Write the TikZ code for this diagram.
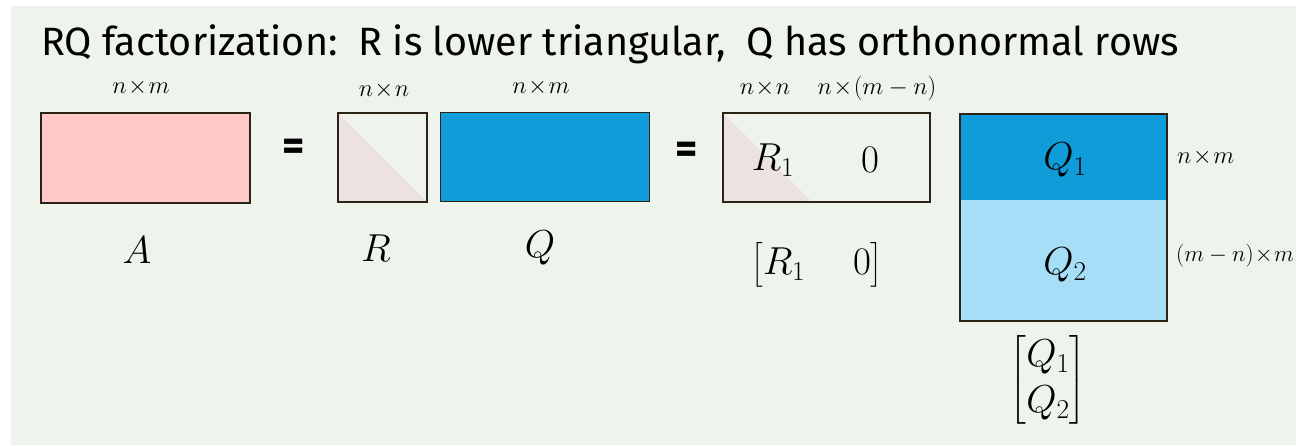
\RequirePackage{fix-cm}
\documentclass[tikz,border=0pt]{standalone}
\usepackage{fontspec}
\usepackage{amsmath}
\newfontfamily\titlefont{Fira Sans}
\definecolor{bgc}{HTML}{EEF3EC}
\definecolor{pinkA}{HTML}{FFC9C9}
\definecolor{triR}{HTML}{EDE2E2}
\definecolor{qblue}{HTML}{0F9CD8}
\definecolor{qlight}{HTML}{A6DEF8}
\definecolor{edgec}{HTML}{2B2416}
\newcommand{\tx}{\mkern1mu{\times}\mkern1mu}
\tikzset{
  mat/.style={draw=edgec, line width=1.6pt, inner sep=0pt, anchor=north west},
  dimlab/.style={inner sep=0pt, font=\fontsize{24.5}{30}\selectfont},
  biglab/.style={inner sep=0pt, font=\fontsize{39}{46}\selectfont},
  eqs/.style={inner sep=0pt, font=\titlefont\bfseries\fontsize{43}{48}\selectfont},
}
\begin{document}
\begin{tikzpicture}[x=1pt,y=-1pt]
\useasboundingbox (0,0) rectangle (1296,446);
\fill[bgc] (11,6) rectangle (1296,445);
\node[inner sep=0pt, anchor=west, font=\titlefont\fontsize{39.5}{46}\selectfont] (title) at (41,44) {RQ factorization:\ \ R is lower triangular,\ \ Q has orthonormal rows};
% A
\node[mat, fill=pinkA, minimum width=209pt, minimum height=90pt] (A) at (40,112) {};
\node[dimlab] (Adim) at (141,87) {$n\tx m$};
\node[biglab] (Alab) at (137,250) {$A$};
\node[eqs] (eq1) at (294,150) {=};
% R
\fill[triR] (337,112) -- (337,201) -- (426,201) -- cycle;
\node[mat, minimum width=89pt, minimum height=89pt] (R) at (337,112) {};
\node[dimlab] (Rdim) at (384,90) {$n\tx n$};
\node[biglab] (Rlab) at (376,248) {$R$};
% Q
\node[mat, fill=qblue, line width=1pt, minimum width=209pt, minimum height=89pt] (Q) at (440,112) {};
\node[dimlab] (Qdim) at (541,87) {$n\tx m$};
\node[biglab] (Qlab) at (540,248) {$Q$};
\node[eqs] (eq2) at (687,153) {=};
% R1 0
\fill[triR] (722,112) -- (722,201) -- (811,201) -- cycle;
\node[mat, minimum width=207pt, minimum height=89pt] (R10) at (722,112) {};
\node[biglab] (R1) at (773,160) {$R_1$};
\node[biglab] (zero) at (870,160) {$0$};
\node[dimlab] (R1dim) at (765,88) {$n\tx n$};
\node[dimlab] (zdim) at (877,88) {$n\tx(m-n)$};
\node[biglab] (R10lab) at (817,265) {$\arraycolsep=24pt\begin{bmatrix}R_1 & 0\end{bmatrix}$};
% Q stack
\fill[qblue] (959,113) rectangle (1166,200);
\fill[qlight] (959,200) rectangle (1166,320);
\node[mat, minimum width=207pt, minimum height=207pt] (Qs) at (959,113) {};
\node[biglab] (Q1) at (1065,160) {$Q_1$};
\node[biglab] (Q2) at (1065,265) {$Q_2$};
\node[dimlab, anchor=west] (Q1dim) at (1177,157) {$n\tx m$};
\node[dimlab, anchor=east, font=\fontsize{23}{28}\selectfont] (Q2dim) at (1294,256) {$(m-n)\tx m$};
\node[biglab] (Qstack) at (1048,380) {$\begin{bmatrix}Q_1\\ Q_2\end{bmatrix}$};
\end{tikzpicture}
\end{document}
